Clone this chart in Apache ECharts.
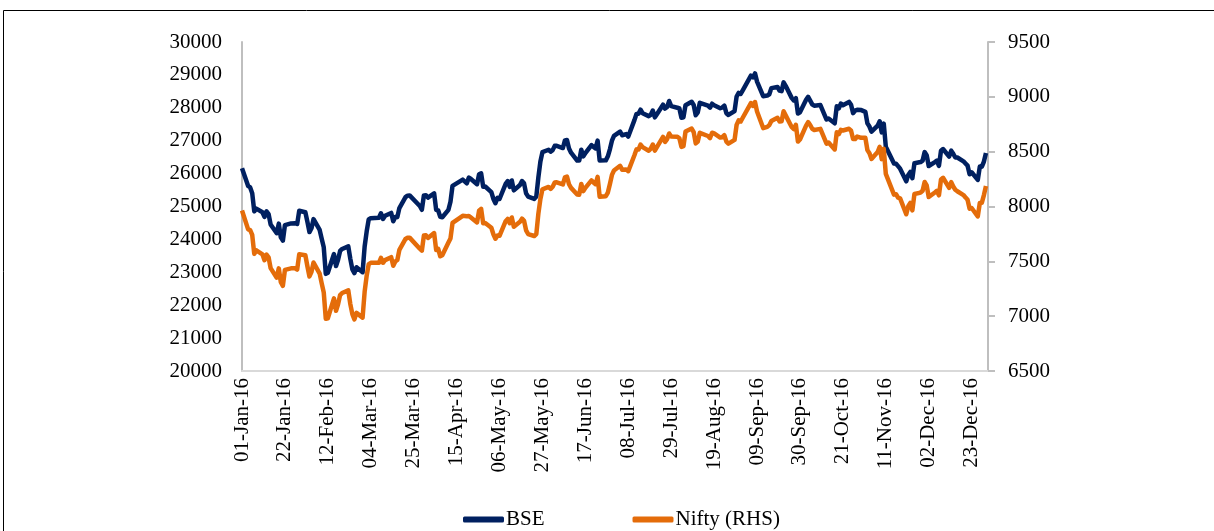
<!DOCTYPE html>
<html>
<head>
<meta charset="utf-8">
<title>BSE vs Nifty 2016</title>
<script src="https://cdn.jsdelivr.net/npm/echarts@6/dist/echarts.min.js"></script>
<style>
    html, body { margin: 0; padding: 0; background: #fff; }
    #chart { width: 1214px; height: 531px; }
</style>
</head>
<body>
<div id="chart"></div>
<script>
// trading days of 2016 (MM-DD), one line per month
var days = [
    '01-01','01-04','01-05','01-06','01-07','01-08','01-11','01-12','01-13','01-14','01-15','01-18','01-19','01-20','01-21','01-22','01-25','01-27','01-28','01-29',
    '02-01','02-02','02-03','02-04','02-05','02-08','02-09','02-10','02-11','02-12','02-15','02-16','02-17','02-18','02-19','02-22','02-23','02-24','02-25','02-26','02-29',
    '03-01','03-02','03-03','03-04','03-08','03-09','03-10','03-11','03-14','03-15','03-16','03-17','03-18','03-21','03-22','03-23','03-28','03-29','03-30','03-31',
    '04-01','04-04','04-05','04-06','04-07','04-08','04-11','04-12','04-13','04-18','04-20','04-21','04-22','04-25','04-26','04-27','04-28','04-29',
    '05-02','05-03','05-04','05-05','05-06','05-09','05-10','05-11','05-12','05-13','05-16','05-17','05-18','05-19','05-20','05-23','05-24','05-25','05-26','05-27','05-30','05-31',
    '06-01','06-02','06-03','06-06','06-07','06-08','06-09','06-10','06-13','06-14','06-15','06-16','06-17','06-20','06-21','06-22','06-23','06-24','06-27','06-28','06-29','06-30',
    '07-01','07-04','07-05','07-07','07-08','07-11','07-12','07-13','07-14','07-15','07-18','07-19','07-20','07-21','07-22','07-25','07-26','07-27','07-28','07-29',
    '08-01','08-02','08-03','08-04','08-05','08-08','08-09','08-10','08-11','08-12','08-16','08-17','08-18','08-19','08-22','08-23','08-24','08-25','08-26','08-29','08-30','08-31',
    '09-01','09-02','09-06','09-07','09-08','09-09','09-12','09-14','09-15','09-16','09-19','09-20','09-21','09-22','09-23','09-26','09-27','09-28','09-29','09-30',
    '10-03','10-04','10-05','10-06','10-07','10-10','10-13','10-14','10-17','10-18','10-19','10-20','10-21','10-24','10-25','10-26','10-27','10-28','10-30',
    '11-01','11-02','11-03','11-04','11-07','11-08','11-09','11-10','11-11','11-15','11-16','11-17','11-18','11-21','11-22','11-23','11-24','11-25','11-28','11-29','11-30',
    '12-01','12-02','12-05','12-06','12-07','12-08','12-09','12-12','12-13','12-14','12-15','12-16','12-19','12-20','12-21','12-22','12-23','12-26','12-27','12-28','12-29','12-30'
];

var bse = [
    26161,25623,25580,25406,24852,24934,24825,24683,24854,24772,24455,24188,24480,24062,23962,24435,24485,24492,24469,24871,
    24825,24539,24223,24338,24617,24287,24020,23759,22952,22986,23554,23191,23382,23649,23709,23789,23410,23088,22976,23154,23002,
    23779,24242,24606,24646,24659,24793,24623,24717,24804,24551,24682,24677,24952,25285,25330,25338,25014,24900,25338,25342,
    25270,25400,24900,24880,24685,24674,24899,25145,25627,25816,25705,25880,25838,25678,25979,26008,25603,25607,
    25437,25229,25102,25262,25228,25688,25773,25597,25790,25489,25653,25773,25704,25399,25302,25231,25305,25881,26367,26653,26725,26668,
    26713,26843,26843,26777,27010,27020,26763,26636,26397,26395,26726,26525,26626,26867,26812,26765,27002,26398,26402,26525,26740,26999,
    27145,27278,27166,27202,27126,27626,27809,27816,27943,27837,27747,27787,27916,27710,27803,28095,27976,28024,28208,28051,
    28003,27981,27698,27714,28078,28183,28085,27775,27860,28152,28065,28005,28124,28077,27986,28009,28064,27836,27782,27902,28343,28452,
    28423,28532,28978,28926,29045,28797,28354,28372,28412,28599,28634,28523,28507,28773,28668,28294,28223,28292,27828,27866,
    28243,28335,28220,28106,28061,28083,27644,27674,27530,28050,27985,28130,28078,28179,28092,27837,27916,27942,27930,
    27877,27527,27430,27274,27459,27591,27252,27518,26819,26305,26299,26227,26150,25765,25960,26051,25860,26316,26350,26394,26653,
    26560,26231,26349,26393,26237,26695,26747,26516,26697,26603,26490,26490,26374,26307,26242,25980,26040,25808,26213,26211,26366,26626
];

var nifty = [
    7963,7791,7784,7741,7568,7601,7564,7510,7562,7537,7438,7351,7436,7310,7277,7422,7436,7437,7425,7564,
    7556,7455,7362,7405,7489,7388,7299,7216,6976,6981,7163,7049,7109,7192,7211,7235,7110,7019,6971,7030,6987,
    7222,7369,7475,7486,7486,7531,7487,7511,7538,7460,7498,7512,7605,7704,7715,7716,7615,7597,7735,7738,
    7713,7758,7603,7614,7546,7555,7671,7708,7850,7915,7912,7914,7899,7855,7962,7979,7847,7850,
    7806,7747,7706,7735,7733,7866,7887,7848,7900,7815,7860,7890,7870,7783,7749,7731,7748,7934,8069,8157,8178,8160,
    8180,8218,8221,8201,8266,8273,8203,8170,8110,8108,8206,8140,8170,8238,8219,8203,8270,8089,8094,8127,8204,8288,
    8328,8371,8335,8337,8323,8467,8521,8519,8565,8541,8508,8528,8565,8510,8541,8635,8590,8615,8666,8639,
    8636,8622,8544,8551,8683,8711,8678,8575,8592,8672,8643,8624,8673,8667,8629,8632,8650,8592,8573,8607,8744,8786,
    8775,8809,8943,8917,8952,8867,8715,8726,8742,8780,8809,8775,8777,8868,8831,8723,8706,8745,8592,8611,
    8738,8769,8743,8709,8698,8708,8573,8583,8520,8678,8659,8699,8693,8709,8691,8616,8615,8638,8626,
    8626,8514,8485,8434,8497,8544,8432,8526,8297,8108,8112,8080,8074,7929,8002,8033,7965,8114,8127,8143,8224,
    8193,8086,8128,8143,8102,8247,8262,8170,8222,8182,8153,8139,8104,8083,8061,7980,7986,7909,8033,8035,8104,8186
];

var seriesNames = ['BSE', 'Nifty (RHS)'];
var months = ['Jan','Feb','Mar','Apr','May','Jun','Jul','Aug','Sep','Oct','Nov','Dec'];

// x = days since 01-Jan-16
var dayZero = Date.UTC(2016, 0, 1);
function dayIndex(s) {
    var p = s.split('-');
    return (Date.UTC(2016, +p[0] - 1, +p[1]) - dayZero) / 86400000;
}
function dayLabel(v) {
    var d = new Date(dayZero + v * 86400000);
    var dd = d.getUTCDate();
    return (dd < 10 ? '0' + dd : dd) + '-' + months[d.getUTCMonth()] + '-16';
}
function plain(v) {
    return String(v);
}

var bseData = days.map(function(s, i) { return [dayIndex(s), bse[i]]; });
var niftyData = days.map(function(s, i) { return [dayIndex(s), nifty[i]]; });

var font = 'Liberation Serif';
var axisGrey = '#bfbfbf';

var myChart = echarts.init(document.getElementById('chart'));
var option = {
    animation: false,
    backgroundColor: '#fff',
    textStyle: { fontFamily: font },
    graphic: [{
        type: 'rect',
        shape: { x: 3.5, y: 10.5, width: 1230, height: 540 },
        style: { fill: 'none', stroke: '#000', lineWidth: 1 },
        silent: true
    }],
    grid: { left: 242, right: 226, top: 42, bottom: 160 },
    legend: {
        left: 458,
        top: 504,
        icon: 'roundRect',
        itemWidth: 41,
        itemHeight: 6,
        itemGap: 88,
        data: seriesNames,
        textStyle: { fontFamily: font, fontSize: 21, color: '#000', padding: [0, 0, 0, -3] }
    },
    xAxis: {
        type: 'value',
        min: 0,
        max: 365,
        interval: 21,
        splitLine: { show: false },
        axisTick: { show: false },
        axisLine: { lineStyle: { color: '#d9d9d9', width: 2 } },
        axisLabel: {
            rotate: 90,
            margin: 7,
            showMaxLabel: false,
            fontFamily: font,
            fontSize: 21,
            color: '#000',
            formatter: dayLabel
        }
    },
    yAxis: [{
        type: 'value',
        min: 20000,
        max: 30000,
        interval: 1000,
        splitLine: { show: false },
        axisTick: { show: false },
        axisLine: { show: true, lineStyle: { color: axisGrey, width: 2 } },
        axisLabel: { margin: 20, fontFamily: font, fontSize: 21, color: '#000', formatter: plain }
    }, {
        type: 'value',
        min: 6500,
        max: 9500,
        interval: 500,
        position: 'right',
        splitLine: { show: false },
        axisTick: { show: true, length: 7, lineStyle: { color: axisGrey, width: 2 } },
        axisLine: { show: true, lineStyle: { color: axisGrey, width: 2 } },
        axisLabel: { margin: 20, fontFamily: font, fontSize: 21, color: '#000', formatter: plain }
    }],
    series: [{
        name: seriesNames[0],
        type: 'line',
        yAxisIndex: 0,
        data: bseData,
        showSymbol: false,
        color: '#002060',
        lineStyle: { width: 4.5, color: '#002060', join: 'round' }
    }, {
        name: seriesNames[1],
        type: 'line',
        yAxisIndex: 1,
        data: niftyData,
        showSymbol: false,
        color: '#E46C0A',
        lineStyle: { width: 4.5, color: '#E46C0A', join: 'round' }
    }]
};
myChart.setOption(option);
</script>
</body>
</html>
